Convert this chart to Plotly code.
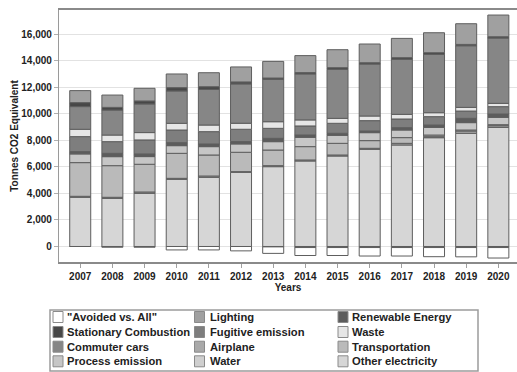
import plotly.graph_objects as go

# ---------------- data ----------------
years = list(range(2007, 2021))

other_electricity = [3710, 3630, 4010, 5065, 5215, 5595, 6020, 6450, 6825, 7330, 7655, 8205, 8535, 8985]
airplane = [75, 80, 100, 75, 100, 50, 75, 75, 75, 75, 125, 75, 175, 125]
transportation = [2540, 2385, 2090, 1885, 1585, 1460, 1180, 1005, 880, 580, 430, 125, 75, 75]
process_emission = [655, 680, 580, 580, 630, 630, 630, 705, 605, 600, 575, 580, 555, 555]
renewable_energy = [175, 250, 200, 225, 200, 175, 250, 175, 150, 125, 175, 175, 325, 250]
fugitive_emission = [1130, 880, 1055, 955, 930, 930, 755, 680, 755, 780, 655, 630, 550, 555]
waste = [555, 500, 555, 505, 500, 455, 500, 455, 375, 350, 350, 300, 275, 250]
commuter_cars = [1710, 1885, 2160, 2440, 2690, 2965, 3195, 3470, 3695, 3920, 4150, 4400, 4650, 4925]
stationary_combustion = [300, 200, 225, 250, 200, 150, 100, 100, 125, 100, 125, 125, 100, 100]
lighting = [905, 930, 955, 1030, 1055, 1130, 1255, 1280, 1355, 1410, 1455, 1505, 1560, 1635]
water = [0, 0, 0, 0, 0, 0, -30, -80, -80, -80, -80, -80, -80, -80]
avoided_vs_all = [0, -60, -60, -260, -260, -330, -490, -600, -600, -640, -640, -690, -700, -790]

y_ticks = [0, 2000, 4000, 6000, 8000, 10000, 12000, 14000, 16000]

# stacking order (negatives first so Water sits right under zero)
series = [
    ("Water", water),
    ('"Avoided vs. All"', avoided_vs_all),
    ("Other electricity", other_electricity),
    ("Airplane", airplane),
    ("Transportation", transportation),
    ("Process emission", process_emission),
    ("Renewable Energy", renewable_energy),
    ("Fugitive emission", fugitive_emission),
    ("Waste", waste),
    ("Commuter cars", commuter_cars),
    ("Stationary Combustion", stationary_combustion),
    ("Lighting", lighting),
]

colors = {
    '"Avoided vs. All"': "#ffffff",
    "Stationary Combustion": "#474747",
    "Commuter cars": "#868686",
    "Process emission": "#c6c6c6",
    "Lighting": "#a0a0a0",
    "Fugitive emission": "#7e7e7e",
    "Airplane": "#a9a9a9",
    "Water": "#cfcfcf",
    "Renewable Energy": "#5c5c5c",
    "Waste": "#e6e6e6",
    "Transportation": "#bababa",
    "Other electricity": "#d6d6d6",
}

legend_layout = [
    ['"Avoided vs. All"', "Stationary Combustion", "Commuter cars", "Process emission"],
    ["Lighting", "Fugitive emission", "Airplane", "Water"],
    ["Renewable Energy", "Waste", "Transportation", "Other electricity"],
]

# ---------------- figure ----------------
fig = go.Figure()
for name, vals in series:
    fig.add_trace(go.Bar(
        x=years, y=vals, name=name,
        marker=dict(color=colors[name], line=dict(color="#5e5e5e", width=1)),
        showlegend=False,
    ))

W, H = 517, 372
ML, MR, MT, MB = 59, 0, 10, 110
PW, PH = W - ML - MR, H - MT - MB


def px_x(px):
    return (px - ML) / PW


def px_y(py):
    return (H - MB - py) / PH


bold = dict(family="Liberation Sans, Arial, sans-serif", size=10, color="#222222", weight="bold")

fig.update_layout(
    width=W, height=H,
    margin=dict(l=ML, r=MR, t=MT, b=MB, pad=0),
    paper_bgcolor="white", plot_bgcolor="white",
    barmode="relative", bargap=0.347,
    showlegend=False,
    xaxis=dict(
        range=[2006.34, 2020.58], tickmode="array", tickvals=years,
        ticktext=[str(y) for y in years], tickfont=bold,
        showgrid=False, zeroline=False,
        showline=True, linecolor="#8a8a8a", linewidth=1.5, mirror=True,
        ticks="outside", ticklen=4, tickcolor="#a0a0a0",
        title=dict(text="Years", font=bold, standoff=2),
    ),
    yaxis=dict(
        range=[-1170, 17835], tickmode="array", tickvals=y_ticks,
        tickformat=",d", tickfont=bold,
        showgrid=True, gridcolor="#e2e2e2", gridwidth=1, zeroline=False,
        showline=True, linecolor="#9a9a9a", linewidth=1.2, mirror=True,
        ticks="outside", ticklen=4, tickcolor="#b0b0b0",
        title=dict(text="Tonnes CO2 Equivalent", font=bold, standoff=0),
    ),
)

# ---------------- custom legend (3 columns x 4 rows) ----------------
shapes = [dict(type="rect", xref="paper", yref="paper",
               x0=px_x(50), x1=px_x(478), y0=px_y(371), y1=px_y(310),
               line=dict(color="#9c9c9c", width=1.5), fillcolor="rgba(0,0,0,0)")]
annotations = []
col_sw_x = [53, 194.5, 338]
col_tx_x = [65, 208, 350]
row_y = [317, 332, 346.7, 361.3]
legend_font = dict(family="Liberation Sans, Arial, sans-serif",
                   size=11.2, color="#222222", weight="bold")
for ci, col in enumerate(legend_layout):
    for ri, name in enumerate(col):
        cy = row_y[ri]
        shapes.append(dict(type="rect", xref="paper", yref="paper",
                           x0=px_x(col_sw_x[ci]), x1=px_x(col_sw_x[ci] + 10),
                           y0=px_y(cy + 5.5), y1=px_y(cy - 5.5),
                           line=dict(color="#8a8a8a", width=1), fillcolor=colors[name]))
        annotations.append(dict(text=name, xref="paper", yref="paper",
                                x=px_x(col_tx_x[ci]), y=px_y(cy),
                                xanchor="left", yanchor="middle", showarrow=False,
                                font=legend_font))
fig.update_layout(shapes=shapes, annotations=annotations)

fig.write_html("out.html")
